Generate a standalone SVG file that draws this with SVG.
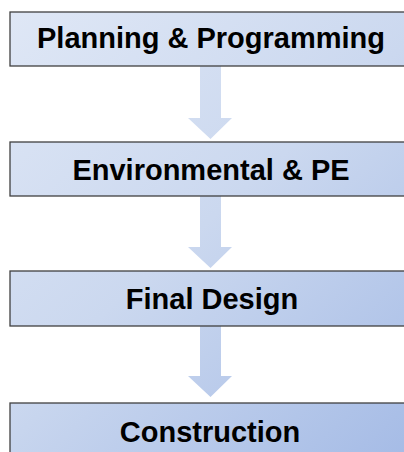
<svg xmlns="http://www.w3.org/2000/svg" width="404" height="452" viewBox="0 0 404 452">
<defs>
<linearGradient id="g" gradientUnits="userSpaceOnUse" x1="0" y1="0" x2="404" y2="452">
<stop offset="0" stop-color="#e0e8f6"/>
<stop offset="0.5" stop-color="#cbd8ef"/>
<stop offset="1" stop-color="#a6bce6"/>
</linearGradient>
<style>
.box{fill:url(#g);stroke:#404040;stroke-width:1.3}
.arr{fill:url(#g);stroke:none}
.lbl{font-family:"Liberation Sans",Arial,sans-serif;font-weight:bold;font-size:29px;fill:#000;text-anchor:middle}
</style>
</defs>
<rect width="404" height="452" fill="#ffffff"/>
<g id="connectors">
<polygon class="arr" points="200,66 221,66 221,118 232,118 210.5,139 188,118 200,118"/>
<polygon class="arr" points="200,196 221,196 221,247 232,247 210.5,268 188,247 200,247"/>
<polygon class="arr" points="200,326 221,326 221,376 232,376 210.5,397 188,376 200,376"/>
</g>
<g id="node1">
<rect class="box" x="10" y="12" width="395" height="54"/>
<text class="lbl" x="211" y="48">Planning &amp; Programming</text>
</g>
<g id="node2">
<rect class="box" x="10" y="142" width="395" height="54"/>
<text class="lbl" x="211" y="180">Environmental &amp; PE</text>
</g>
<g id="node3">
<rect class="box" x="10" y="271" width="395" height="55"/>
<text class="lbl" x="212" y="309">Final Design</text>
</g>
<g id="node4">
<rect class="box" x="10" y="403" width="395" height="60"/>
<text class="lbl" x="210" y="442">Construction</text>
</g>
</svg>
